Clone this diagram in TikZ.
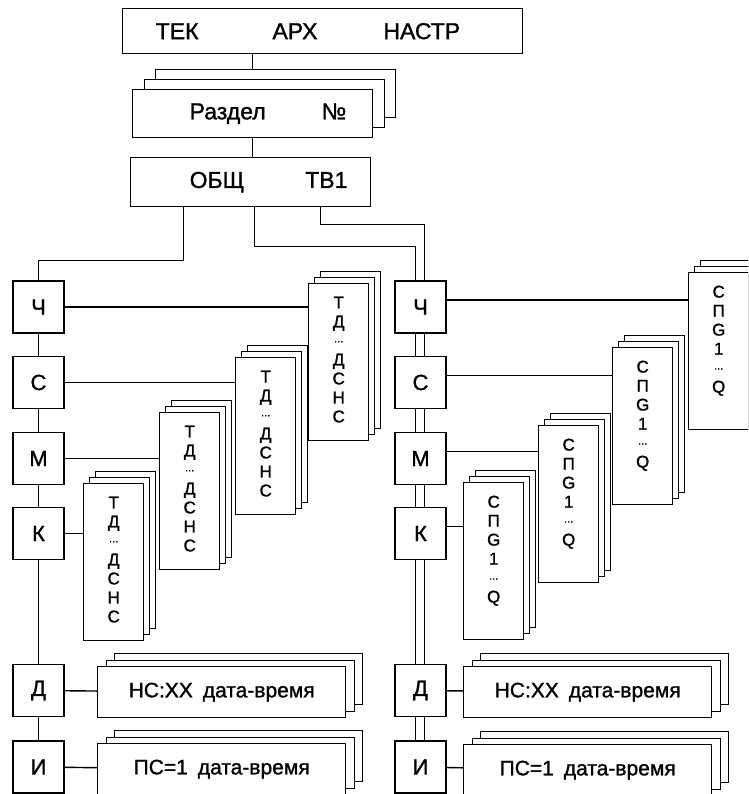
\documentclass[tikz,border=0pt]{standalone}
\usepackage{fontspec}
\setmainfont{Liberation Sans}[RawFeature={embolden=1.2}]
\usetikzlibrary{positioning}

% back sheets of a pile: name, x, y, width, height, dx, dy
\newcommand{\pile}[7]{%
  \foreach \k in {2,1} {
    \node[sheet, minimum width=#4pt, minimum height=#5pt, anchor=north west]
      (#1-\k) at (#2+\k*#6, #3-\k*#7) {};
  }
}
\newcommand{\dts}{\raisebox{4pt}{\fontsize{11}{11}\selectfont...}}
\newcommand{\column}[1]{\parbox[c][157pt][t]{60pt}{\centering
  \fontsize{17}{19}\selectfont\vspace*{13pt}#1}}

\begin{document}
\begin{tikzpicture}[x=1pt, y=-1pt, line width=1.4pt]
\tikzstyle{sheet}=[draw, fill=white, inner sep=0pt]
\tikzstyle{cell}=[sheet, minimum width=51pt, minimum height=52pt, font=\fontsize{22}{22}\selectfont]
\tikzstyle{wide}=[sheet, minimum width=248pt, minimum height=51pt, anchor=north west, font=\fontsize{21}{21}\selectfont]

\useasboundingbox (0,0) rectangle (748,794);
\clip (0,0) rectangle (748,794);

% head
\node[sheet, text width=400pt, minimum height=45pt, anchor=north west, align=left,
  font=\fontsize{23}{23}\selectfont] (top) at (122,8)
  {\hspace*{33pt}ТЕК\hspace{74pt}АРХ\hspace{66pt}НАСТР};
\pile{razd}{132}{89}{240}{48}{11.5}{10}
\node[sheet, text width=240pt, minimum height=48pt, anchor=north west, align=left,
  font=\fontsize{23}{23}\selectfont] (razd) at (132,89)
  {\hspace*{57pt}Раздел\hspace{56pt}№};
\node[sheet, text width=240pt, minimum height=49pt, anchor=north west, align=left,
  font=\fontsize{23}{23}\selectfont] (obsh) at (130,157)
  {\hspace*{59pt}ОБЩ\hspace{61pt}ТВ1};
\draw (razd.north |- top.south) -- (razd.north |- razd-2.north);
\draw (razd.south) -- (razd.south |- obsh.north);

% letter boxes
\foreach \n/\t/\y in {ch/Ч/307, s/С/382.5, m/М/458.5, k/К/533.5, d/Д/690.5, i/И/767} {
  \node[cell] (\n L) at (38.5,\y) {\t};
  \node[cell] (\n R) at (420.5,\y) {\t};
}
\draw (chL) -- (sL) -- (mL) -- (kL) -- (dL) -- (iL);
\foreach \a/\b in {chR/sR, sR/mR, mR/kR, kR/dR, dR/iR} {
  \draw ([xshift=-5pt]\a.south) -- ([xshift=-5pt]\b.north);
  \draw ([xshift=4pt]\a.south) -- ([xshift=4pt]\b.north);
}
\draw ([xshift=-67pt]obsh.south) |- ([yshift=20pt]chL.north) -- (chL.north);
\draw ([xshift=4pt]obsh.south) |- ([xshift=-5pt, yshift=34pt]chR.north) -- ([xshift=-5pt]chR.north);
\draw ([xshift=70pt]obsh.south) |- ([xshift=4pt, yshift=56pt]chR.north) -- ([xshift=4pt]chR.north);

% piles of the left column
\foreach \n/\x/\y in {ch/308/283, s/235/357, m/159/412, k/83/483} {
  \pile{td\n}{\x}{\y}{60}{157}{6}{6}
  \node[sheet, anchor=north west] (td\n) at (\x,\y) {\column{Т\\Д\\\dts\\Д\\С\\Н\\С}};
  \draw (\n L.east) -- (\n L.east -| td\n.west);
}
% piles of the right column
\foreach \n/\x/\y in {ch/688/272, s/612/347, m/538/425, k/463/482} {
  \pile{sp\n}{\x}{\y}{60}{157}{6}{6}
  \node[sheet, anchor=north west] (sp\n) at (\x,\y) {\column{С\\П\\G\\1\\\dts\\Q}};
  \draw ([yshift=7pt]\n R.east) -- ([yshift=7pt]\n R.east -| sp\n.west);
}

% records
\pile{nsL}{97}{666}{248}{51}{8.5}{6.5}
\node[wide] (nsL) at (97,666) {НС:ХХ\hspace{10pt}дата-время};
\pile{psL}{97}{743}{248}{51}{8.5}{6.5}
\node[wide] (psL) at (97,743) {ПС=1\hspace{10pt}дата-время};
\pile{nsR}{463}{666}{248}{51}{8.5}{6.5}
\node[wide] (nsR) at (463,666) {НС:ХХ\hspace{10pt}дата-время};
\pile{psR}{463}{744}{248}{51}{8.5}{6.5}
\node[wide] (psR) at (463,744) {ПС=1\hspace{10pt}дата-время};
\draw (dL) -- (nsL);
\draw (iL) -- (psL);
\draw (dR) -- (nsR);
\draw (iR) -- (psR);

\end{tikzpicture}
\end{document}
